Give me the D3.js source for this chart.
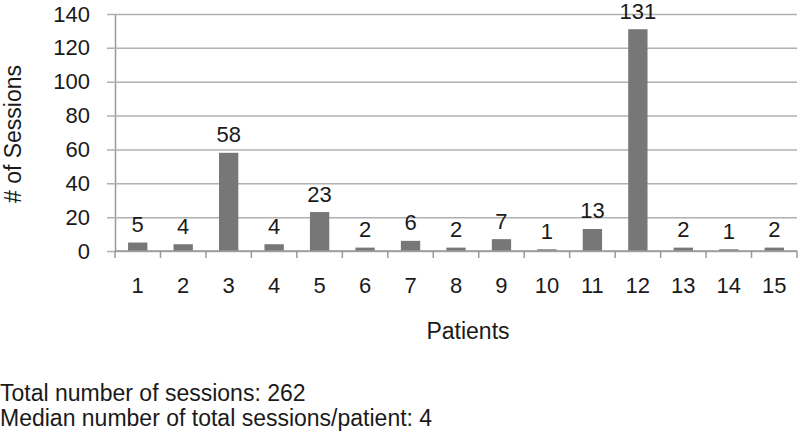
<!DOCTYPE html>
<html>
<head>
<meta charset="utf-8">
<script src="https://cdn.jsdelivr.net/npm/d3@7"></script>
<style>
  body { margin: 0; background: #fff; }
  text { font-family: "Liberation Sans", Arial, sans-serif; fill: #1a1a1a; }
</style>
</head>
<body>
<div id="chart"></div>
<script>
var patients = ["1", "2", "3", "4", "5", "6", "7", "8", "9", "10", "11", "12", "13", "14", "15"];
var sessions = [5, 4, 58, 4, 23, 2, 6, 2, 7, 1, 13, 131, 2, 1, 2];
var yTicks = [0, 20, 40, 60, 80, 100, 120, 140];
var notes = ["Total number of sessions: 262", "Median number of total sessions/patient: 4"];

var width = 800, height = 435;
var margin = { top: 14, right: 3, bottom: 184, left: 115 };
var w = width - margin.left - margin.right;
var h = height - margin.top - margin.bottom;

var svg = d3.select("#chart").append("svg")
    .attr("width", width)
    .attr("height", height);

var g = svg.append("g")
    .attr("transform", "translate(" + margin.left + "," + margin.top + ")");

var x = d3.scaleBand().domain(patients).range([0, w]).paddingInner(0.575).paddingOuter(0.2875);
var xb = d3.scaleBand().domain(patients).range([0, w]);
var y = d3.scaleLinear().domain([0, 140]).range([h, 0]);

// gridlines + y axis
var yAxis = g.append("g")
    .call(d3.axisLeft(y).tickValues(yTicks).tickSize(8).tickPadding(17).tickSizeOuter(0));
yAxis.select(".domain").attr("stroke", "#999").attr("stroke-width", 1.5);
yAxis.selectAll(".tick line").attr("stroke", "#b0b0b0").attr("stroke-width", 1.5)
    .attr("x1", -8).attr("x2", w);
yAxis.selectAll(".tick text").style("font-size", "22px").attr("fill", "#1a1a1a");

// bars
g.selectAll(".bar")
    .data(sessions)
    .enter()
    .append("rect")
    .attr("class", "bar")
    .attr("x", function (d, i) { return x(patients[i]); })
    .attr("y", function (d) { return y(d); })
    .attr("width", x.bandwidth())
    .attr("height", function (d) { return h - y(d); })
    .attr("fill", "#777");

// value labels
g.selectAll(".val")
    .data(sessions)
    .enter()
    .append("text")
    .attr("class", "val")
    .attr("x", function (d, i) { return x(patients[i]) + x.bandwidth() / 2; })
    .attr("y", function (d) { return y(d) - 10.5; })
    .attr("text-anchor", "middle")
    .style("font-size", "22px")
    .text(function (d) { return d; });

// x axis: ticks on category boundaries
var xAxis = g.append("g")
    .attr("transform", "translate(0," + h + ")");
xAxis.append("line").attr("x1", 0).attr("x2", w).attr("stroke", "#999").attr("stroke-width", 1.5);
xAxis.selectAll(".bt")
    .data(patients.concat([""]))
    .enter()
    .append("line")
    .attr("x1", function (d, i) { return i * xb.step(); })
    .attr("x2", function (d, i) { return i * xb.step(); })
    .attr("y1", 0).attr("y2", 7)
    .attr("stroke", "#999").attr("stroke-width", 1.5);
xAxis.selectAll(".lbl")
    .data(patients)
    .enter()
    .append("text")
    .attr("x", function (d) { return xb(d) + xb.bandwidth() / 2; })
    .attr("y", 42)
    .attr("text-anchor", "middle")
    .style("font-size", "22px")
    .text(function (d) { return d; });

// axis titles
svg.append("text")
    .attr("x", 468)
    .attr("y", 339)
    .attr("text-anchor", "middle")
    .style("font-size", "23px")
    .text("Patients");

svg.append("text")
    .attr("transform", "translate(21,134) rotate(-90)")
    .attr("text-anchor", "middle")
    .style("font-size", "23px")
    .text("# of Sessions");

// footnotes
svg.selectAll(".note")
    .data(notes)
    .enter()
    .append("text")
    .attr("class", "note")
    .attr("x", 0)
    .attr("y", function (d, i) { return 401 + i * 25; })
    .style("font-size", "23px")
    .text(function (d) { return d; });
</script>
</body>
</html>
